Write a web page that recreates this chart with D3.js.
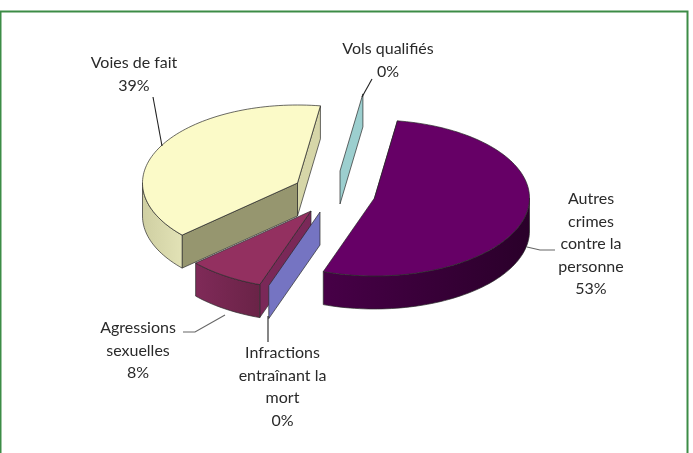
<!DOCTYPE html>
<html>
<head>
<meta charset="utf-8">
<script src="https://cdn.jsdelivr.net/npm/d3@7"></script>
<style>
  html, body { margin: 0; padding: 0; background: #fff; overflow: hidden; }
  svg { display: block; filter: blur(0.45px); }
  text { font-family: Lato, "Open Sans", sans-serif; font-size: 16px; fill: #2a2a2a; }
</style>
</head>
<body>
<svg width="693" height="453"></svg>
<script>
// values, same order as the slices going clockwise
const categories = ['Autres crimes contre la personne', 'Infractions entraînant la mort', 'Agressions sexuelles', 'Voies de fait', 'Vols qualifiés'];
const shares = [53, 0, 8, 39, 0];
const percentLabels = ['53%', '0%', '8%', '39%', '0%'];
const labelLines = [
    ['Autres', 'crimes', 'contre la', 'personne'],
    ['Infractions', 'entraînant la', 'mort'],
    ['Agressions', 'sexuelles'],
    ['Voies de fait'],
    ['Vols qualifiés']
];

const svg = d3.select('svg');

// frame around the chart
svg.append('rect')
    .attr('x', 0.5).attr('y', 11.5)
    .attr('width', 687).attr('height', 460)
    .attr('fill', '#fff')
    .attr('stroke', '#3c8c46')
    .attr('stroke-width', 2);

// shape of the tilted pie
const rx = 155, ry = 78, depth = 33;
const startDeg = 8.5;

// each slice is pulled out on its own so it gets its own centre
const centres = [[374.5, 198], [320, 212], [311, 211], [297.5, 183], [340, 171]];
const colors = [
    { top: '#660066', wallA: '#470047', wallB: '#2a002a', cut: '#470047' },
    { top: '#7574c2', wallA: '#7574c2', wallB: '#7574c2', cut: '#7574c2' },
    { top: '#933060', wallA: '#7f2a58', wallB: '#6a2347', cut: '#7a2858' },
    { top: '#fbfac8', wallA: '#cfcfa2', wallB: '#e2e2b6', cut: '#96966f' },
    { top: '#9ccfcf', wallA: '#9ccfcf', wallB: '#9ccfcf', cut: '#9ccfcf' }
];

const pie = d3.pie().sort(null)
    .startAngle(startDeg * Math.PI / 180)
    .endAngle((startDeg + 360) * Math.PI / 180);
const slices = pie(shares);

// angle on the pie -> point on the ellipse
function project(c, a, down) {
    return [c[0] + rx * Math.sin(a), c[1] - ry * Math.cos(a) + (down ? depth : 0)];
}
const line = d3.line();

function arcPoints(c, a0, a1, down) {
    const n = Math.max(2, Math.ceil((a1 - a0) / 0.03));
    return d3.range(n + 1).map(i => project(c, a0 + (a1 - a0) * i / n, down));
}

const defs = svg.append('defs');
slices.forEach((d, i) => {
    const g = defs.append('linearGradient').attr('id', 'wall' + i);
    g.append('stop').attr('offset', '0%').attr('stop-color', colors[i].wallA);
    g.append('stop').attr('offset', '100%').attr('stop-color', colors[i].wallB);
});

// flat wall from centre out to the rim at angle a
function cutWall(c, a) {
    const p = project(c, a, false);
    const q = project(c, a, true);
    return line([c, p, q, [c[0], c[1] + depth]]) + 'Z';
}

// outer rim between two angles, only the part facing us
function rimWall(c, a0, a1) {
    const from = Math.max(a0, Math.PI / 2);
    const to = Math.min(a1, Math.PI * 3 / 2);
    if (to <= from) return null;
    return line(arcPoints(c, from, to, false).concat(arcPoints(c, from, to, true).reverse())) + 'Z';
}

const pieLayer = svg.append('g')
    .attr('stroke', '#2a2a2a')
    .attr('stroke-width', 0.7)
    .attr('stroke-linejoin', 'round');

// painter order: back slices first
[3, 4, 0, 2, 1].forEach(i => {
    const d = slices[i];
    const c = centres[i];
    const g = pieLayer.append('g').attr('class', 'slice');
    if (d.value === 0) {
        g.append('path').attr('d', cutWall(c, d.startAngle)).attr('fill', colors[i].cut);
        return;
    }
    // the end cut shows on the voies de fait slice (right side)
    if (i === 3) {
        g.append('path').attr('d', cutWall(c, d.endAngle)).attr('fill', '#d6d6a8');
    }
    g.append('path').attr('d', cutWall(c, d.startAngle)).attr('fill', colors[i].cut);
    const rim = rimWall(c, d.startAngle, d.endAngle);
    if (rim) g.append('path').attr('d', rim).attr('fill', 'url(#wall' + i + ')');
    const top = [c].concat(arcPoints(c, d.startAngle, d.endAngle, false));
    g.append('path').attr('d', line(top) + 'Z').attr('fill', colors[i].top);
});

// leader lines
const leaders = [
    [[527, 247], [540, 250], [555, 250]],
    [[268, 316], [268, 342]],
    [[225, 315], [195, 332], [183, 332]],
    [[162, 146], [153, 97]],
    [[362, 97], [372, 79]]
];
svg.append('g').selectAll('path')
    .data(leaders)
    .join('path')
    .attr('d', d => line(d))
    .attr('fill', 'none')
    .attr('stroke', (d, i) => (i === 0 || i === 2) ? '#666' : '#222')
    .attr('stroke-width', 1.1);

// data labels, first baseline and centre x per slice
const labelPos = [[591, 204], [282.5, 358], [138, 333], [134, 68], [388, 54]];
const lineStep = 22.5;
labelLines.forEach((lines, i) => {
    const t = svg.append('text')
        .attr('text-anchor', 'middle')
        .attr('x', labelPos[i][0])
        .attr('y', labelPos[i][1]);
    lines.concat([percentLabels[i]]).forEach((s, j) => {
        t.append('tspan')
            .attr('x', labelPos[i][0])
            .attr('dy', j === 0 ? 0 : lineStep)
            .text(s);
    });
});
</script>
</body>
</html>
